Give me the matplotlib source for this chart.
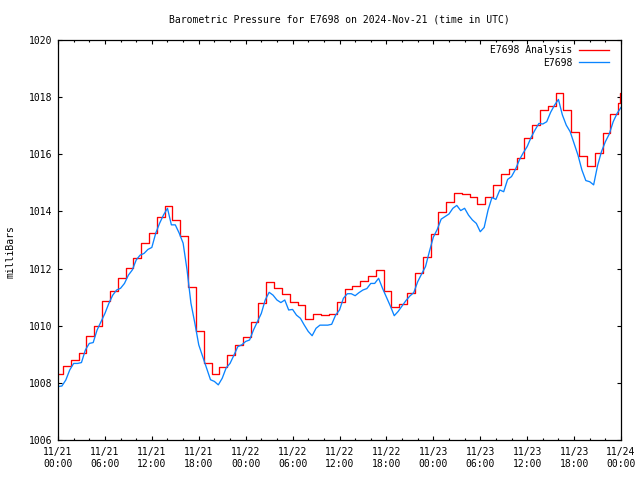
import numpy as np
import matplotlib
matplotlib.use('Agg')
import matplotlib.pyplot as plt

# Valores (horas desde 11/21 00:00 UTC)
analise_mb = [
    1008.31, 1008.59, 1008.79, 1009.03, 1009.64, 1009.98, 1010.86, 1011.21,
    1011.66, 1012.01, 1012.36, 1012.88, 1013.23, 1013.79, 1014.19, 1013.70,
    1013.14, 1011.35, 1009.80, 1008.70, 1008.31, 1008.54, 1008.97, 1009.32,
    1009.60, 1010.14, 1010.81, 1011.52, 1011.31, 1011.10, 1010.84, 1010.72,
    1010.22, 1010.41, 1010.37, 1010.41, 1010.82, 1011.28, 1011.39, 1011.56,
    1011.75, 1011.95, 1011.23, 1010.67, 1010.75, 1011.13, 1011.83, 1012.40,
    1013.21, 1013.99, 1014.32, 1014.63, 1014.60, 1014.52, 1014.25, 1014.49,
    1014.91, 1015.30, 1015.47, 1015.88, 1016.56, 1017.02, 1017.55, 1017.69,
    1018.13, 1017.55, 1016.77, 1015.94, 1015.59, 1016.06, 1016.73, 1017.41,
    1017.78, 1018.16, 1018.16,
]
analise_h = [0.0] + [k - 0.36 for k in range(1, 73)] + [71.85, 72.0]

estacao_mb = [
    1007.87, 1007.89, 1008.10, 1008.45, 1008.68, 1008.68, 1008.71, 1009.15,
    1009.38, 1009.41, 1009.85, 1010.14, 1010.43, 1010.78, 1011.07, 1011.25,
    1011.31, 1011.48, 1011.77, 1011.95, 1012.30, 1012.47, 1012.53, 1012.67,
    1012.74, 1013.24, 1013.59, 1013.88, 1014.11, 1013.53, 1013.53, 1013.24,
    1012.89, 1011.96, 1010.79, 1010.09, 1009.33, 1008.92, 1008.52, 1008.11,
    1008.05, 1007.93, 1008.16, 1008.52, 1008.68, 1008.97, 1009.27, 1009.33,
    1009.45, 1009.50, 1009.85, 1010.14, 1010.43, 1010.90, 1011.17, 1011.07,
    1010.90, 1010.81, 1010.90, 1010.55, 1010.57, 1010.37, 1010.26, 1010.02,
    1009.80, 1009.65, 1009.91, 1010.02, 1010.02, 1010.02, 1010.05, 1010.37,
    1010.55, 1010.96, 1011.12, 1011.12, 1011.05, 1011.16, 1011.25, 1011.30,
    1011.48, 1011.48, 1011.66, 1011.31, 1011.00, 1010.69, 1010.35, 1010.50,
    1010.69, 1010.88, 1011.04, 1011.16, 1011.54, 1011.81, 1012.07, 1012.60,
    1013.10, 1013.37, 1013.73, 1013.82, 1013.91, 1014.11, 1014.21, 1014.03,
    1014.11, 1013.87, 1013.70, 1013.58, 1013.29, 1013.44, 1014.05, 1014.49,
    1014.42, 1014.75, 1014.69, 1015.12, 1015.22, 1015.47, 1015.80, 1016.05,
    1016.27, 1016.59, 1016.85, 1017.08, 1017.06, 1017.14, 1017.47, 1017.72,
    1017.92, 1017.38, 1017.02, 1016.79, 1016.38, 1015.97, 1015.45, 1015.08,
    1015.04, 1014.93, 1015.60, 1016.09, 1016.44, 1016.71, 1017.14, 1017.43,
    1017.64,
]
estacao_h = [i * 0.5 for i in range(len(estacao_mb))]

rotulos_x = ['11/21\n00:00', '11/21\n06:00', '11/21\n12:00', '11/21\n18:00',
             '11/22\n00:00', '11/22\n06:00', '11/22\n12:00', '11/22\n18:00',
             '11/23\n00:00', '11/23\n06:00', '11/23\n12:00', '11/23\n18:00',
             '11/24\n00:00']
ticks_y = [1006, 1008, 1010, 1012, 1014, 1016, 1018, 1020]

plt.rcParams['font.family'] = ['DejaVu Sans Mono']
fs = 7

fig = plt.figure(figsize=(6.4, 4.8), dpi=100)
ax = fig.add_axes([58 / 640, 40 / 480, 563 / 640, 400 / 480])

ax.plot(analise_h, analise_mb, drawstyle='steps-post', color='#ff0000', lw=0.95, label='E7698 Analysis')
ax.plot(estacao_h, estacao_mb, color='#0a84ff', lw=0.95, label='E7698')

ax.set_xlim(0, 72)
ax.set_ylim(1006, 1020)
ax.set_xticks(np.arange(0, 73, 6))
ax.set_xticks(np.arange(0, 73, 2), minor=True)
ax.set_xticklabels(rotulos_x, fontsize=fs, linespacing=1.3)
ax.set_yticks(ticks_y)
ax.set_yticklabels([str(v) for v in ticks_y], fontsize=fs)
ax.tick_params(which='both', direction='in', top=True, right=True, color='black')
ax.tick_params(which='major', length=3, width=0.8)
ax.tick_params(axis='x', which='major', pad=5)
ax.tick_params(axis='y', which='major', pad=4)
ax.tick_params(which='minor', length=1.5, width=0.8)
for s in ax.spines.values():
    s.set_linewidth(0.9)

ax.set_ylabel('milliBars', fontsize=fs)
ax.yaxis.set_label_coords(-0.075, 0.47)
fig.text(339 / 640, 1 - 20 / 480, 'Barometric Pressure for E7698 on 2024-Nov-21 (time in UTC)',
         fontsize=fs, ha='center', va='center')

leg = ax.legend(loc='upper right', frameon=False, markerfirst=False, fontsize=fs,
                handlelength=3.0, handletextpad=0.72, labelspacing=0.25,
                borderaxespad=0.15, bbox_to_anchor=(1 - 7 / 563, 1.0))
for t in leg.get_texts():
    t.set_ha('right')

fig.savefig('out.png', dpi=100)
